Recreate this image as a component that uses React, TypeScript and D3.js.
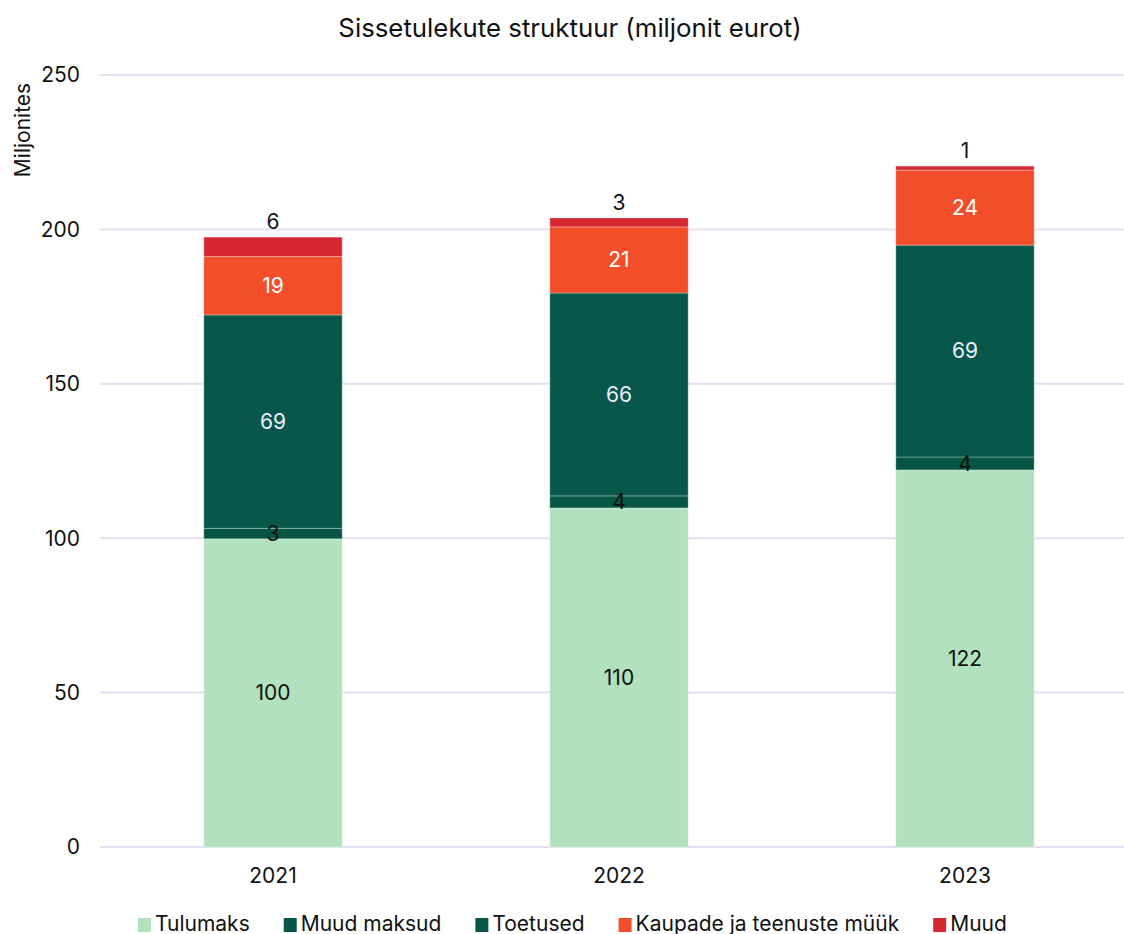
import React from "react";
import * as d3 from "d3";

const years = ["2021", "2022", "2023"];
const seriesNames = ["Tulumaks", "Muud maksud", "Toetused", "Kaupade ja teenuste müük", "Muud"];
const tulumaks = [99.8, 109.8, 122.1];
const muudMaksud = [3.4, 3.9, 4.2];
const toetused = [69.1, 65.7, 68.6];
const kaupade = [18.9, 21.4, 24.3];
const muud = [6.3, 2.9, 1.3];
const seriesColors = ["#b2e2bd", "#075544", "#07574a", "#f24e2a", "#d62832"];
const labelColors = ["#111", "#111", "#eef", "#fff", "#111"];
const yTicks = [0, 50, 100, 150, 200, 250];
const title = "Sissetulekute struktuur (miljonit eurot)";
const yTitle = "Miljonites";

const W = 1124, H = 934;
const FONT = "Inter, 'Noto Sans', sans-serif";

function measure(text: string, font: string) {
  const c = document.createElement("canvas").getContext("2d")!;
  c.font = font;
  return c.measureText(text).width;
}

export default function App() {
  const values = [tulumaks, muudMaksud, toetused, kaupade, muud];
  const rows = years.map((y, i) => {
    const r: any = { year: y };
    seriesNames.forEach((s, k) => (r[s] = values[k][i]));
    return r;
  });
  const stack = d3.stack<any>().keys(seriesNames)(rows);

  const x = d3.scaleBand().domain(years).range([100, 1138]).paddingInner(0.6).paddingOuter(0.3);
  const y = d3.scaleLinear().domain([0, 250]).range([847, 75]);

  const legendSize = 21;
  const legendFont = `${legendSize}px Inter`;
  let lx = 138;
  const legendItems = seriesNames.map((s, k) => {
    const item = { s, k, x: lx };
    lx += 17 + measure(s, legendFont) + 34;
    return item;
  });

  return (
    <svg width={W} height={H} style={{ position: "absolute", left: 0, top: 0, background: "#fff" }}>
      <text x={570} y={37} textAnchor="middle" fontFamily={FONT} fontSize={25.8} fill="#111">{title}</text>
      <text transform={`translate(30,130) rotate(-90)`} textAnchor="middle" fontFamily={FONT} fontSize={21} fill="#111">{yTitle}</text>
      {yTicks.map(t => (
        <g key={t}>
          <line x1={100} x2={1124} y1={y(t)} y2={y(t)} stroke="#e1e1f2" strokeWidth={2} />
          <text x={80} y={y(t)} dy="0.35em" textAnchor="end" fontFamily={FONT} fontSize={21} fill="#111">{t}</text>
        </g>
      ))}
      {years.map(yr => (
        <text key={yr} x={x(yr)! + x.bandwidth() / 2} y={883} textAnchor="middle" fontFamily={FONT} fontSize={21} fill="#111">{yr}</text>
      ))}
      {stack.map((layer, k) => (
        <g key={k}>
          {layer.map((d, i) => (
            <rect key={i} x={x(years[i])} width={x.bandwidth()} y={y(d[1])} height={y(d[0]) - y(d[1])}
              fill={seriesColors[k]} stroke="rgba(255,255,255,0.3)" strokeWidth={1} />
          ))}
        </g>
      ))}
      {stack.map((layer, k) => (
        <g key={"l" + k}>
          {layer.map((d, i) => {
            const isTop = k === seriesNames.length - 1;
            const cy = isTop ? y(d[1]) - 15 : (y(d[0]) + y(d[1])) / 2;
            return (
              <text key={i} x={x(years[i])! + x.bandwidth() / 2} y={cy} dy="0.35em" textAnchor="middle"
                fontFamily={FONT} fontSize={21} fill={labelColors[k]}>
                {d3.format(".0f")(d[1] - d[0])}
              </text>
            );
          })}
        </g>
      ))}
      {legendItems.map(it => (
        <g key={it.s}>
          <rect x={it.x} y={918} width={13} height={14} fill={seriesColors[it.k]} />
          <text x={it.x + 17} y={931} fontFamily={FONT} fontSize={legendSize} fill="#111">{it.s}</text>
        </g>
      ))}
    </svg>
  );
}
